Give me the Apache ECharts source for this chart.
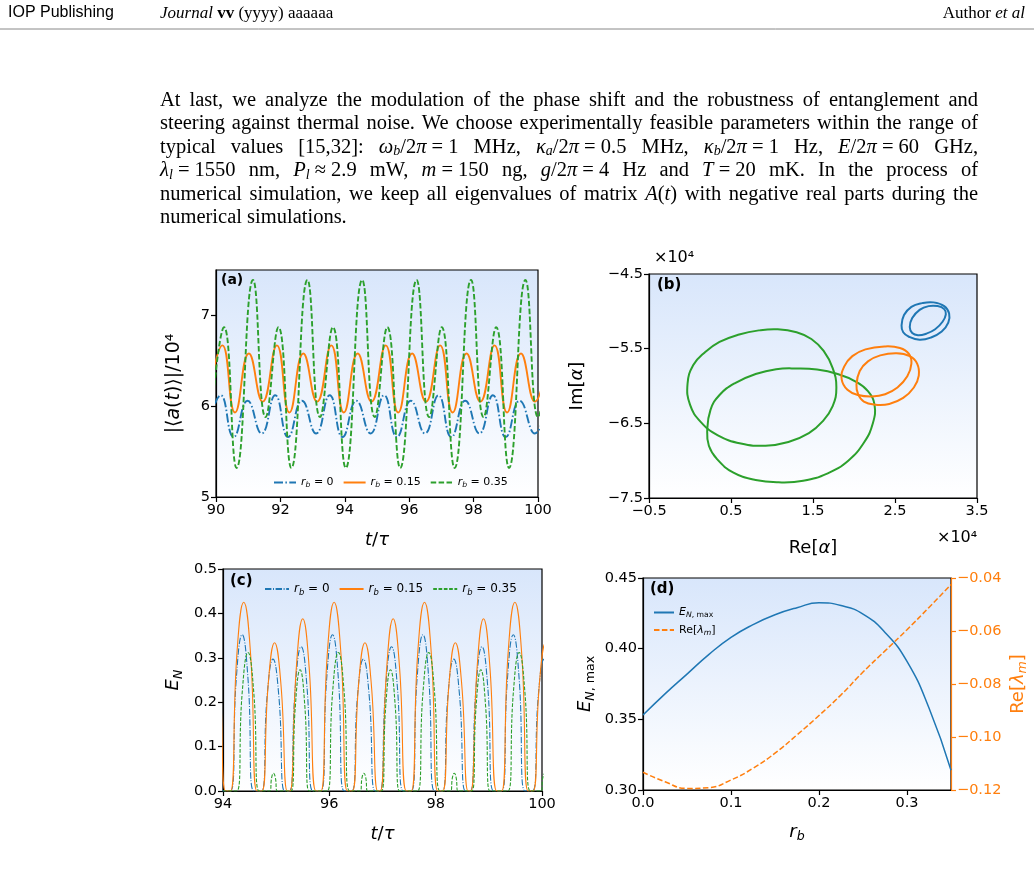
<!DOCTYPE html>
<html>
<head>
<meta charset="utf-8">
<script src="https://cdn.jsdelivr.net/npm/echarts@6/dist/echarts.min.js"></script>
<style>
html, body { margin: 0; padding: 0; background: #fff; }
#main { width: 1034px; height: 882px; }
</style>
</head>
<body>
<div id="main"></div>
<script>
// ---- panel (a): |<a(t)>|/10^4 vs t/tau, extrema
var aBlue = [[89.73,5.70],[90.15,6.12],[90.55,5.66],[90.98,6.06],[91.42,5.70],[91.84,6.12],[92.24,5.66],[92.67,6.06],
  [93.11,5.70],[93.53,6.12],[93.93,5.66],[94.36,6.06],[94.80,5.70],[95.22,6.12],[95.62,5.66],[96.05,6.06],[96.49,5.70],
  [96.91,6.12],[97.31,5.66],[97.74,6.06],[98.18,5.70],[98.60,6.12],[99.00,5.66],[99.43,6.06],[99.90,5.70],[100.32,6.12]];
var aOrange = [[89.76,6.05],[90.20,6.67],[90.59,5.93],[91.02,6.58],[91.45,6.05],[91.89,6.67],[92.28,5.93],[92.71,6.58],
  [93.14,6.05],[93.58,6.67],[93.97,5.93],[94.40,6.58],[94.83,6.05],[95.27,6.67],[95.66,5.93],[96.09,6.58],[96.52,6.05],
  [96.96,6.67],[97.35,5.93],[97.78,6.58],[98.21,6.05],[98.65,6.67],[99.04,5.93],[99.47,6.58],[99.90,6.05],[100.34,6.67]];
var aGreen = [[89.85,5.88],[90.25,6.87],[90.64,5.32],[91.15,7.39],[91.54,5.88],[91.94,6.87],[92.34,5.32],[92.84,7.39],
  [93.23,5.88],[93.63,6.87],[94.03,5.32],[94.54,7.39],[94.93,5.88],[95.32,6.87],[95.72,5.32],[96.23,7.39],[96.62,5.88],
  [97.01,6.87],[97.41,5.32],[97.92,7.39],[98.31,5.88],[98.70,6.87],[99.10,5.32],[99.61,7.39],[100.00,5.88],[100.39,6.87]];

// ---- panel (b): Im[alpha] vs Re[alpha] (x1e4), closed loops
var bGreen1 = [[-0.03,-5.97],[0.04,-5.72],[0.18,-5.55],[0.36,-5.41],[0.60,-5.31],[0.84,-5.255],[1.07,-5.24],[1.30,-5.28],
  [1.48,-5.37],[1.63,-5.53],[1.74,-5.76],[1.785,-6.02],[1.74,-6.27],[1.62,-6.47],[1.45,-6.63],[1.20,-6.75],[0.92,-6.80],
  [0.62,-6.77],[0.34,-6.66],[0.13,-6.48],[0.00,-6.25]];
var bGreen2 = [[0.21,-6.60],[0.25,-6.32],[0.36,-6.12],[0.55,-5.96],[0.80,-5.84],[1.05,-5.775],[1.30,-5.765],[1.55,-5.78],
  [1.80,-5.84],[2.02,-5.94],[2.17,-6.07],[2.25,-6.25],[2.23,-6.50],[2.12,-6.76],[1.93,-7.00],[1.68,-7.17],[1.38,-7.27],
  [1.08,-7.29],[0.80,-7.26],[0.53,-7.16],[0.33,-6.98],[0.23,-6.80]];
var bOrange1 = [[1.85,-5.91],[1.88,-5.74],[1.98,-5.60],[2.14,-5.51],[2.37,-5.47],[2.56,-5.49],[2.67,-5.57],[2.70,-5.70],
  [2.65,-5.87],[2.53,-6.02],[2.38,-6.11],[2.22,-6.14],[2.05,-6.12],[1.92,-6.05]];
var bOrange2 = [[2.03,-5.98],[2.07,-5.80],[2.17,-5.67],[2.32,-5.59],[2.52,-5.56],[2.68,-5.60],[2.77,-5.70],[2.79,-5.86],
  [2.73,-6.02],[2.60,-6.16],[2.43,-6.24],[2.26,-6.25],[2.12,-6.21],[2.05,-6.11]];
var bBlue1 = [[2.58,-5.19],[2.61,-5.05],[2.70,-4.94],[2.83,-4.89],[2.97,-4.88],[3.10,-4.93],[3.16,-5.03],[3.15,-5.15],
  [3.07,-5.27],[2.94,-5.35],[2.80,-5.38],[2.67,-5.34],[2.60,-5.28]];
var bBlue2 = [[2.68,-5.21],[2.71,-5.09],[2.80,-4.98],[2.91,-4.93],[3.02,-4.93],[3.10,-4.97],[3.12,-5.04],[3.08,-5.14],
  [2.99,-5.24],[2.88,-5.30],[2.78,-5.32],[2.71,-5.29]];

// ---- panel (c): E_N vs t/tau
var cBlue = [[93.53,0.234],[93.64,0.325],[93.75,0.234],[93.86,0],[94.14,0],[94.25,0.253],[94.36,0.352],[94.47,0.253],[94.58,0],
  [94.72,0],[94.83,0.214],[94.94,0.297],[95.05,0.214],[95.16,0],[95.25,0],[95.36,0.234],[95.47,0.325],[95.58,0.234],[95.69,0],
  [95.84,0],[95.95,0.253],[96.06,0.352],[96.17,0.253],[96.28,0],[96.42,0],[96.53,0.214],[96.64,0.297],[96.75,0.214],[96.86,0],
  [96.95,0],[97.06,0.234],[97.17,0.325],[97.28,0.234],[97.39,0],[97.54,0],[97.65,0.253],[97.76,0.352],[97.87,0.253],[97.98,0],
  [98.12,0],[98.23,0.214],[98.34,0.297],[98.45,0.214],[98.56,0],[98.65,0],[98.76,0.234],[98.87,0.325],[98.98,0.234],[99.09,0],
  [99.24,0],[99.35,0.253],[99.46,0.352],[99.57,0.253],[99.68,0],[99.82,0],[99.93,0.214],[100.04,0.297],[100.15,0.214]];
var cOrange = [[93.67,0.279],[93.80,0.388],[93.93,0.279],[94.05,0],[94.14,0],[94.26,0.306],[94.39,0.425],[94.52,0.306],[94.64,0],
  [94.73,0],[94.85,0.240],[94.97,0.334],[95.09,0.240],[95.21,0],[95.26,0],[95.38,0.279],[95.50,0.388],[95.62,0.279],[95.75,0],
  [95.84,0],[95.96,0.306],[96.09,0.425],[96.22,0.306],[96.34,0],[96.43,0],[96.55,0.240],[96.67,0.334],[96.79,0.240],[96.91,0],
  [96.96,0],[97.08,0.279],[97.20,0.388],[97.32,0.279],[97.45,0],[97.54,0],[97.66,0.306],[97.79,0.425],[97.92,0.306],[98.04,0],
  [98.13,0],[98.25,0.240],[98.37,0.334],[98.49,0.240],[98.61,0],[98.66,0],[98.78,0.279],[98.90,0.388],[99.02,0.279],[99.15,0],
  [99.24,0],[99.36,0.306],[99.49,0.425],[99.62,0.306],[99.74,0],[99.83,0],[99.95,0.240],[100.07,0.334],[100.19,0.240]];
var cGreen = [[94.0,0],[94.26,0],[94.36,0.220],[94.47,0.312],[94.58,0.220],[94.68,0],[94.88,0],[94.915,0.030],[94.95,0.040],
  [94.985,0.030],[95.02,0],[95.28,0],[95.36,0.190],[95.45,0.273],[95.54,0.190],[95.62,0],[95.96,0],[96.06,0.220],[96.17,0.312],
  [96.28,0.220],[96.38,0],[96.58,0],[96.615,0.030],[96.65,0.040],[96.685,0.030],[96.72,0],[96.98,0],[97.06,0.190],[97.15,0.273],
  [97.24,0.190],[97.32,0],[97.66,0],[97.76,0.220],[97.87,0.312],[97.98,0.220],[98.08,0],[98.28,0],[98.315,0.030],[98.35,0.040],
  [98.385,0.030],[98.42,0],[98.68,0],[98.76,0.190],[98.85,0.273],[98.94,0.190],[99.02,0],[99.36,0],[99.46,0.220],[99.57,0.312],
  [99.68,0.220],[99.78,0],[99.98,0],[100.015,0.030],[100.05,0.040]];

// ---- panel (d): E_N,max and Re[lambda_m] vs r_b
var rb = [0, 0.025, 0.05, 0.075, 0.1, 0.125, 0.15, 0.175, 0.2, 0.225, 0.25, 0.275, 0.3, 0.325, 0.35];
var enMax = [0.353, 0.368, 0.382, 0.396, 0.408, 0.417, 0.424, 0.429, 0.4325, 0.4305, 0.4245, 0.4115, 0.391, 0.358, 0.314];
var reLam = [-0.1133, -0.1169, -0.1194, -0.1191, -0.1162, -0.1118, -0.1061, -0.0992, -0.0919, -0.0841, -0.0755, -0.0675, -0.0595, -0.0511, -0.0425];

var blue = '#1f77b4', orange = '#ff7f0e', green = '#2ca02c';
var sans = 'DejaVu Sans', serif = 'Liberation Serif';
var dashdot = [9, 2.4, 1.5, 2.4], dashed = [5.5, 2.4];
var textSize = 20.5;

function mathRich(size, color) {
  return {
    i: { fontStyle: 'italic', fontFamily: sans, fontSize: size, color: color, lineHeight: size * 1.25 },
    s: { fontStyle: 'italic', fontFamily: sans, fontSize: size * 0.7, color: color, lineHeight: size * 0.5, verticalAlign: 'bottom' },
    r: { fontFamily: sans, fontSize: size * 0.7, color: color, lineHeight: size * 0.5, verticalAlign: 'bottom' }
  };
}

function minus(v, d) {
  var s = d == null ? String(v) : v.toFixed(d);
  return s.replace('-', '\u2212');
}

function grad() {
  return { type: 'linear', x: 0, y: 0, x2: 0, y2: 1,
    colorStops: [{ offset: 0, color: '#d8e6fb' }, { offset: 1, color: '#ffffff' }] };
}

function axis(o) {
  var col = o.color || '#000';
  var fs = o.nameSize || 18;
  var a = {
    type: 'value', gridIndex: o.grid, min: o.min, max: o.max, position: o.position,
    name: o.name, nameLocation: 'middle', nameGap: o.gap,
    nameTextStyle: { fontFamily: sans, fontSize: fs, color: col, lineHeight: fs * 1.25, rich: mathRich(fs, col) },
    axisLine: { show: true, onZero: false, lineStyle: { color: col, width: 1.2 } },
    axisTick: { show: true, length: 5, lineStyle: { color: col, width: 1.2 } },
    axisLabel: { fontFamily: sans, fontSize: 14.5, color: col, margin: 6,
      formatter: function (v) { return minus(v, o.dec); } },
    splitLine: { show: false }
  };
  if (o.ticks) {
    a.axisLabel.customValues = o.ticks;
    a.axisTick.customValues = o.ticks;
  } else {
    a.interval = o.interval;
  }
  return a;
}

var chart = echarts.init(document.getElementById('main'));

var txtRich = {
  i: { fontStyle: 'italic', fontFamily: serif, fontSize: textSize, lineHeight: 22 },
  s: { fontStyle: 'italic', fontFamily: serif, fontSize: 14, lineHeight: 9, verticalAlign: 'bottom' },
  c: { fontFamily: serif, fontSize: textSize, lineHeight: 22, color: '#1f1fff' }
};
// \u00a0 marks math spacing that must not stretch when the line is justified
var paraLines = [
  'At last, we analyze the modulation of the phase shift and the robustness of entanglement and',
  'steering against thermal noise. We choose experimentally feasible parameters within the range of',
  'typical values [{c|15},{c|32}]: {i|ω}{s|b}/2{i|π}\u00a0=\u00a01 MHz, {i|κ}{s|a}/2{i|π}\u00a0=\u00a00.5 MHz, {i|κ}{s|b}/2{i|π}\u00a0=\u00a01 Hz, {i|E}/2{i|π}\u00a0=\u00a060 GHz,',
  '{i|λ}{s|l}\u00a0=\u00a01550 nm, {i|P}{s|l}\u00a0≈\u00a02.9 mW, {i|m}\u00a0=\u00a0150 ng, {i|g}/2{i|π}\u00a0=\u00a04 Hz and {i|T}\u00a0=\u00a020 mK. In the process of',
  'numerical simulation, we keep all eigenvalues of matrix {i|A}({i|t}) with negative real parts during the',
  'numerical simulations.'
];

function textStyle(t) {
  return { text: t, fontFamily: serif, fontSize: textSize, lineHeight: 22, fill: '#000', rich: txtRich };
}
function measure(t) {
  var el = new echarts.graphic.Text({ style: textStyle(t) });
  return el.getBoundingRect().width;
}

var graphics = [
  { type: 'text', left: 8, top: 5, style: { text: 'IOP Publishing', font: '16px "Liberation Sans"', fill: '#000' } },
  { type: 'text', left: 160, top: 5, style: { text: '{i|Journal} {b|vv} (yyyy) aaaaaa', fontFamily: serif, fontSize: 17, fill: '#000',
      rich: { i: { fontStyle: 'italic', fontFamily: serif, fontSize: 17 }, b: { fontWeight: 'bold', fontFamily: serif, fontSize: 17 } } } },
  { type: 'text', right: 9, top: 5, style: { text: 'Author {i|et al}', fontFamily: serif, fontSize: 17, fill: '#000',
      rich: { i: { fontStyle: 'italic', fontFamily: serif, fontSize: 17 } } } },
  { type: 'line', shape: { x1: 0, y1: 29, x2: 1034, y2: 29 }, style: { stroke: '#888', lineWidth: 1 } },
  { type: 'text', left: 221, top: 273, style: { text: '(a)', font: 'bold 14px "DejaVu Sans"', fill: '#000' } },
  { type: 'text', left: 657, top: 278, style: { text: '(b)', font: 'bold 15px "DejaVu Sans"', fill: '#000' } },
  { type: 'text', left: 230, top: 574, style: { text: '(c)', font: 'bold 15px "DejaVu Sans"', fill: '#000' } },
  { type: 'text', left: 650, top: 582, style: { text: '(d)', font: 'bold 15px "DejaVu Sans"', fill: '#000' } },
  { type: 'text', left: 654, top: 250, style: { text: '×10⁴', font: '16px "DejaVu Sans"', fill: '#000' } },
  { type: 'text', left: 937, top: 530, style: { text: '×10⁴', font: '16px "DejaVu Sans"', fill: '#000' } }
];

// justified paragraph between x = 160 and x = 978
var paraLeft = 160, paraWidth = 818;
paraLines.forEach(function (line, k) {
  var top = 89.5 + k * 23.5;
  if (k === paraLines.length - 1) {
    graphics.push({ type: 'text', left: paraLeft, top: top, style: textStyle(line) });
    return;
  }
  var words = line.split(' ');
  var widths = words.map(measure);
  var total = widths.reduce(function (s, w) { return s + w; }, 0);
  var gap = (paraWidth - total) / (words.length - 1);
  var x = paraLeft;
  words.forEach(function (w, j) {
    graphics.push({ type: 'text', x: x, y: top, style: textStyle(w) });
    x += widths[j] + gap;
  });
});

var legendNames = {
  a0: '{i|r}{s|b} = 0', a15: '{i|r}{s|b} = 0.15', a35: '{i|r}{s|b} = 0.35',
  c0: '{i|r}{s|b} = 0', c15: '{i|r}{s|b} = 0.15', c35: '{i|r}{s|b} = 0.35',
  d1: '{i|E}{s|N}{r|, max}', d2: 'Re[{i|λ}{s|m}]'
};
function legendFmt(n) { return legendNames[n]; }

function ln(name, xi, yi, data, color, type, width) {
  return { name: name, type: 'line', xAxisIndex: xi, yAxisIndex: yi, data: data, showSymbol: false, symbol: 'none',
    smooth: 0.5, clip: true, lineStyle: { color: color, type: type, width: width },
    itemStyle: { color: color },
    emphasis: { disabled: true }, animation: false };
}

// closed trajectory in panel (b): points mapped by the axes, drawn as a smooth closed curve
function loop(pts, color) {
  return { type: 'custom', xAxisIndex: 1, yAxisIndex: 1, data: pts, silent: true, clip: true,
    encode: { x: 0, y: 1 },
    renderItem: function (params, api) {
      if (params.dataIndex !== 0) return null;
      var p = pts.map(function (d) { return api.coord(d); });
      return { type: 'polygon', shape: { points: p, smooth: 0.45 },
        style: { fill: 'none', stroke: color, lineWidth: 2 } };
    } };
}

var hidden = { color: 'transparent', borderColor: 'transparent', borderWidth: 0 };

var option = {
  backgroundColor: '#fff',
  animation: false,
  graphic: graphics,
  grid: [
    { left: 216, top: 270, width: 322, height: 227, show: true, borderColor: '#000', borderWidth: 1.2, backgroundColor: grad() },
    { left: 649, top: 274, width: 328, height: 224, show: true, borderColor: '#000', borderWidth: 1.2, backgroundColor: grad() },
    { left: 223, top: 569, width: 319, height: 222, show: true, borderColor: '#000', borderWidth: 1.2, backgroundColor: grad() },
    { left: 643, top: 578, width: 308, height: 212, show: true, borderColor: '#000', borderWidth: 1.2, backgroundColor: grad() }
  ],
  xAxis: [
    axis({ grid: 0, min: 90, max: 100, interval: 2, name: '{i|t}/{i|τ}', gap: 32 }),
    axis({ grid: 1, min: -0.5, max: 3.5, ticks: [-0.5, 0.5, 1.5, 2.5, 3.5], name: 'Re[{i|α}]', gap: 39 }),
    axis({ grid: 2, min: 94, max: 100, interval: 2, name: '{i|t}/{i|τ}', gap: 32 }),
    axis({ grid: 3, min: 0, max: 0.35, ticks: [0, 0.1, 0.2, 0.3], dec: 1, name: '{i|r}{s|b}', gap: 31 })
  ],
  yAxis: [
    axis({ grid: 0, min: 5, max: 7.5, ticks: [5, 6, 7], name: '|⟨{i|a}({i|t})⟩|/10⁴', gap: 30, nameSize: 19 }),
    axis({ grid: 1, min: -7.5, max: -4.5, ticks: [-7.5, -6.5, -5.5, -4.5], name: 'Im[{i|α}]', gap: 60 }),
    axis({ grid: 2, min: 0, max: 0.5, interval: 0.1, dec: 1, name: '{i|E}{s|N}', gap: 38 }),
    axis({ grid: 3, min: 0.3, max: 0.45, ticks: [0.30, 0.35, 0.40, 0.45], dec: 2, name: '{i|E}{s|N}{r|, max}', gap: 46 }),
    axis({ grid: 3, min: -0.12, max: -0.04, ticks: [-0.12, -0.10, -0.08, -0.06, -0.04], dec: 2, position: 'right',
      color: orange, name: 'Re[{i|λ}{s|m}]', gap: 56 })
  ],
  legend: [
    { data: ['a0', 'a15', 'a35'], left: 268, top: 472, itemWidth: 22, itemHeight: 10, itemGap: 9, formatter: legendFmt,
      itemStyle: hidden, textStyle: { fontFamily: sans, fontSize: 11, color: '#000', rich: mathRich(11, '#000') }, selectedMode: false },
    { data: ['c0', 'c15', 'c35'], left: 259, top: 578, itemWidth: 24, itemHeight: 10, itemGap: 9, formatter: legendFmt,
      itemStyle: hidden, textStyle: { fontFamily: sans, fontSize: 12, color: '#000', rich: mathRich(12, '#000') }, selectedMode: false },
    { data: ['d1', 'd2'], left: 648, top: 602, orient: 'vertical', itemWidth: 20, itemHeight: 10, itemGap: 5, formatter: legendFmt,
      itemStyle: hidden, textStyle: { fontFamily: sans, fontSize: 11, color: '#000', rich: mathRich(11, '#000') }, selectedMode: false }
  ],
  series: [
    ln('a0', 0, 0, aBlue, blue, dashdot, 1.9),
    ln('a15', 0, 0, aOrange, orange, 'solid', 1.9),
    ln('a35', 0, 0, aGreen, green, dashed, 1.9),
    loop(bGreen1, green),
    loop(bGreen2, green),
    loop(bOrange1, orange),
    loop(bOrange2, orange),
    loop(bBlue1, blue),
    loop(bBlue2, blue),
    ln('c0', 2, 2, cBlue, blue, [6.4, 1.6, 1, 1.6], 1.1),
    ln('c15', 2, 2, cOrange, orange, 'solid', 1.1),
    ln('c35', 2, 2, cGreen, green, [3.7, 1.6], 1.1),
    ln('d1', 3, 3, rb.map(function (r, k) { return [r, enMax[k]]; }), blue, 'solid', 1.5),
    ln('d2', 3, 4, rb.map(function (r, k) { return [r, reLam[k]]; }), orange, dashed, 1.5)
  ]
};
chart.setOption(option);
</script>
</body>
</html>
